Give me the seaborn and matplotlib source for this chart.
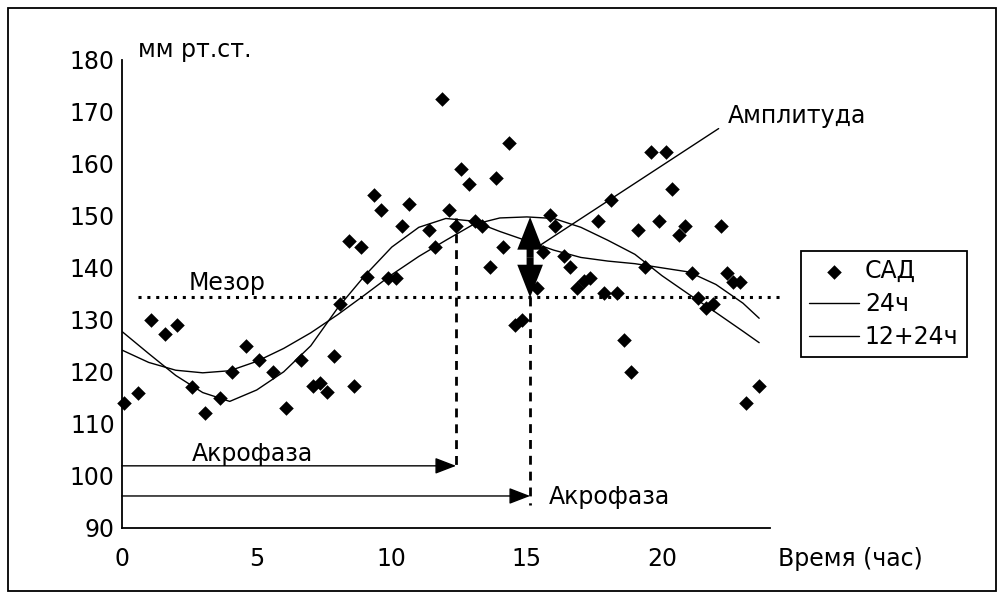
import matplotlib
matplotlib.use("Agg")
import matplotlib.pyplot as plt
from matplotlib.patches import Rectangle
import seaborn as sns

# Systolic blood pressure readings over the day (hour, mm Hg)
sad_hours = [0.1, 0.6, 1.1, 1.6, 2.05, 2.6, 3.1, 3.65, 4.1, 4.6, 5.1, 5.6, 6.1,
             6.65, 7.1, 7.35, 7.6, 7.85, 8.1, 8.4, 8.6, 8.85, 9.1, 9.35, 9.6,
             9.85, 10.15, 10.37, 10.62, 11.38, 11.6, 11.87, 12.1, 12.38, 12.58,
             12.85, 13.07, 13.35, 13.63, 13.85, 14.12, 14.34, 14.57, 14.83,
             15.37, 15.6, 15.86, 16.05, 16.37, 16.58, 16.87, 17.1, 17.32, 17.65,
             17.86, 18.13, 18.35, 18.6, 18.87, 19.1, 19.38, 19.58, 19.9, 20.16,
             20.36, 20.64, 20.86, 21.12, 21.32, 21.63, 21.9, 22.18, 22.4, 22.63,
             22.9, 23.1, 23.6]
sad_values = [114, 116, 130, 127.2, 129, 117.1, 112.1, 115, 120, 125, 122.2, 120,
              113, 122.2, 117.2, 117.8, 116.1, 123, 133, 145.1, 117.2, 144, 138.2,
              154.1, 151.2, 138.1, 138.1, 148, 152.3, 147.3, 144, 172.4, 151.2,
              148, 159.1, 156.2, 149.1, 148.1, 140.1, 157.3, 144.1, 164, 129,
              130, 136.2, 143, 150.1, 148, 142.2, 140.1, 136.2, 137.4, 138.1,
              149.1, 135.2, 153, 135.2, 126.1, 120, 147.3, 140.1, 162.3, 149.1,
              162.3, 155.1, 146.3, 148.1, 139.1, 134.2, 132.2, 133, 148.1, 139.1,
              137.2, 137.2, 114, 117.2]

# Fitted cosinor curves
fit_hours = [0, 1, 2, 3, 4, 5, 6, 7, 8, 9, 10, 11, 12, 13, 14, 15, 16, 17, 18,
             19, 20, 21, 22, 23, 23.6]
fit_24 = [124.2, 121.8, 120.3, 119.8, 120.2, 122.0, 124.5, 127.5, 131.0, 134.8,
          138.7, 142.2, 145.3, 148.3, 149.6, 149.8, 149.5, 147.8, 145.3, 142.6,
          138.5, 134.9, 131.4, 127.8, 125.6]
fit_12_24 = [127.8, 123.5, 119.3, 116.0, 114.3, 116.5, 120.0, 125.0, 132.3, 138.5,
             144.0, 147.8, 149.5, 149.0, 147.0, 145.2, 143.4, 142.0, 141.3, 140.8,
             140.0, 139.2, 136.8, 133.2, 130.3]

# Cosinor parameters
mesor = 134.3
peak_24 = 149.8
peak_12_24 = 149.5
acrophase_24 = 15.12
acrophase_12_24 = 12.38

x_ticks = [0, 5, 10, 15, 20]
y_ticks = [90, 100, 110, 120, 130, 140, 150, 160, 170, 180]

sns.set_style("white")
plt.rcParams["font.family"] = ["DejaVu Sans"]
plt.rcParams["text.color"] = "k"
plt.rcParams["legend.labelcolor"] = "k"
FS = 17

fig = plt.figure(figsize=(10.04, 5.98), dpi=100)
ax = fig.add_axes([0.1212, 0.1176, 0.6457, 0.7821])

sns.scatterplot(x=sad_hours, y=sad_values, marker="D", s=55, color="k",
                edgecolor="k", linewidth=0, label="САД", ax=ax, zorder=4,
                clip_on=False)
sns.lineplot(x=fit_hours, y=fit_24, color="k", lw=1.0, label="24ч", ax=ax)
sns.lineplot(x=fit_hours, y=fit_12_24, color="k", lw=1.0, label="12+24ч", ax=ax)

ax.set_xlim(0, 24)
ax.set_ylim(90, 180)
ax.set_xticks(x_ticks)
ax.set_yticks(y_ticks)
ax.set_xlabel("")
ax.set_ylabel("")
for side in ("top", "right"):
    ax.spines[side].set_visible(False)
for side in ("left", "bottom"):
    ax.spines[side].set_color("k")
    ax.spines[side].set_linewidth(1.3)
ax.tick_params(direction="inout", length=8, width=1.3, colors="k",
               labelsize=FS)
ax.tick_params(axis="x", pad=10)
ax.tick_params(axis="y", pad=1)

# MESOR level
ax.plot([0.62, 24.4], [mesor, mesor], color="k", lw=2.2,
        ls=(0, (1, 1.9)), dash_capstyle="butt", clip_on=False)
ax.text(2.46, mesor + 1.4, "Мезор", fontsize=FS, ha="left", va="baseline")

# Acrophase markers
ax.plot([acrophase_12_24, acrophase_12_24], [peak_12_24, 101.1], color="k",
        lw=2.0, ls=(0, (3.2, 2.5)))
ax.plot([acrophase_24, acrophase_24], [mesor, 94.4], color="k",
        lw=2.0, ls=(0, (3.2, 2.5)))
thin_head = "-|>,head_length=1.3,head_width=0.5"
ax.annotate("", xy=(acrophase_12_24, 101.9), xytext=(0, 101.9),
            arrowprops=dict(arrowstyle=thin_head, color="k", lw=1.0,
                            shrinkA=0, shrinkB=0, mutation_scale=10))
ax.annotate("", xy=(acrophase_24, 96.1), xytext=(0, 96.1),
            arrowprops=dict(arrowstyle=thin_head, color="k", lw=1.0,
                            shrinkA=0, shrinkB=0, mutation_scale=10))
ax.text(2.59, 102.8, "Акрофаза", fontsize=FS, ha="left", va="baseline")
ax.text(15.8, 94.6, "Акрофаза", fontsize=FS, ha="left", va="baseline")

# Amplitude of the 24-hour fit: a double-headed arrow from MESOR to the peak
mid = (mesor + peak_24) / 2
half = (peak_24 - mesor) / 2
for sign in (1, -1):
    ax.arrow(acrophase_24, mid, 0, sign * half, width=0.26, head_width=0.95,
             head_length=6.3, length_includes_head=True, fc="k", ec="k",
             lw=0, zorder=5)
ax.plot([15.3, 22.1], [143.7, 166.8], color="k", lw=1.0, clip_on=False)
ax.text(22.45, 167.8, "Амплитуда", fontsize=FS, ha="left", va="baseline",
        clip_on=False)

# Axis captions
ax.text(0.6, 180.5, "мм рт.ст.", fontsize=FS, ha="left", va="baseline",
        clip_on=False)
ax.text(24.3, 82.6, "Время (час)", fontsize=FS, ha="left", va="baseline",
        clip_on=False)

handles, labels = ax.get_legend_handles_labels()
leg = ax.legend(handles, labels, loc="upper left",
                bbox_to_anchor=(1.048, 0.5916), borderaxespad=0,
                fontsize=FS, frameon=True, fancybox=False, framealpha=1,
                edgecolor="k", handlelength=2.1, handletextpad=0.25,
                borderpad=0.35, labelspacing=0.38)
leg.get_frame().set_linewidth(1.3)

fig.patches.append(Rectangle((8 / 1004, 1 - 591 / 598), 988 / 1004, 583 / 598,
                             transform=fig.transFigure, fill=False,
                             edgecolor="k", linewidth=1.3))

fig.savefig("out.png", dpi=100)
